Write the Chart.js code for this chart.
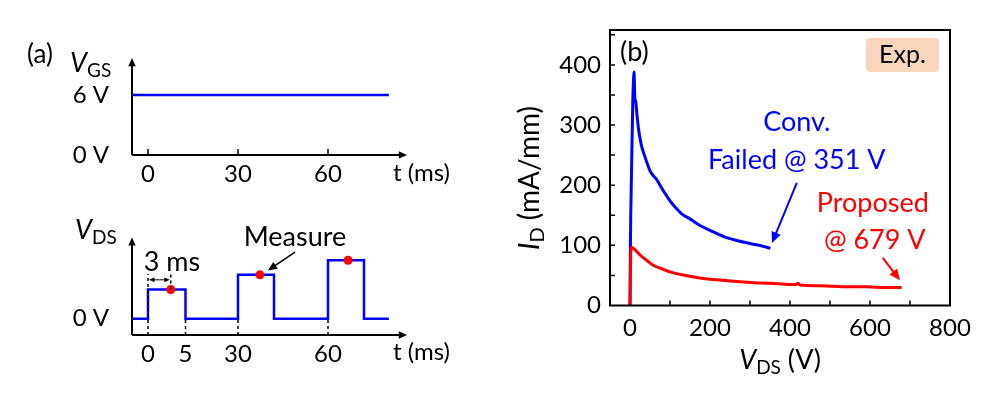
<!DOCTYPE html>
<html>
<head>
<meta charset="utf-8">
<script src="https://cdn.jsdelivr.net/npm/chart.js@4.4.1/dist/chart.umd.min.js"></script>
<style>
  html, body { margin: 0; padding: 0; background: #fff; }
  body { width: 1006px; height: 397px; position: relative; overflow: hidden; }
  .panel { position: absolute; }
</style>
</head>
<body>
<div class="panel" style="left:0;top:0;width:480px;height:200px"><canvas id="vgs"></canvas></div>
<div class="panel" style="left:0;top:200px;width:480px;height:197px"><canvas id="vds"></canvas></div>
<div class="panel" style="left:500px;top:0;width:506px;height:397px"><canvas id="ids"></canvas></div>
<script>
// (a) pulse schematic, t in ms
const tGate = [-5.33, 80.3];
const vGate = [6, 6];
const tDrain = [-5.33, 0, 0, 12.5, 12.5, 30, 30, 42, 42, 60, 60, 72, 72, 80.3];
const vDrain = [0, 0, 1, 1, 0, 0, 1.5, 1.5, 0, 0, 2, 2, 0, 0];
const tMeasure = [7.6, 37.3, 66.7];
const vMeasure = [1, 1.5, 2];
const timeTicks = [0, 30, 60];
const pulseTicks = [0, 12.5, 30, 60];
const pulseTickLabels = ["0", "5", "30", "60"];

// (b) ID - VDS, experiment
const vdsConv = [0, 1, 4, 7, 9, 10, 11, 12, 14, 17, 21, 25, 29, 35, 42, 50, 58, 65, 75, 87, 100, 115, 130, 150, 175, 200, 233, 267, 300, 330, 351];
const idConv = [0, 100, 230, 340, 378, 388, 372, 345, 340, 320, 295, 278, 265, 252, 238, 224, 216, 211, 200, 187, 174, 162, 152, 144, 133, 125, 115, 108, 103, 99, 95];
const vdsProp = [0, 0.5, 2, 4, 10, 18, 25, 40, 58, 80, 100, 140, 183, 230, 267, 310, 350, 400, 415, 420, 425, 470, 508, 550, 592, 640, 679];
const idProp = [0, 20, 90, 97, 94, 89, 84, 76, 67, 61, 56, 50, 45, 42, 40, 38, 37, 35, 35, 37, 34, 33, 32, 31, 31, 30, 30];
const vdsTicks = [0, 200, 400, 600, 800];
const idTicks = [0, 100, 200, 300, 400];
const vdsMarks = [100, 200, 300, 400, 500, 600, 700];
const idMarks = [50, 100, 150, 200, 250, 300, 350, 400, 450];

const FONT = "Lato, 'Open Sans', sans-serif";
const BLUE = "#0000ff";
const RED = "#ff0000";

const pts = (xs, ys) => xs.map((x, i) => ({ x: x, y: ys[i] }));
const setTicks = (vals) => (s) => { s.ticks = vals.map((v) => ({ value: v })); };

function arrow(ctx, x1, y1, x2, y2, color, width, head) {
  const a = Math.atan2(y2 - y1, x2 - x1);
  ctx.strokeStyle = color;
  ctx.fillStyle = color;
  ctx.lineWidth = width;
  ctx.beginPath();
  ctx.moveTo(x1, y1);
  ctx.lineTo(x2 - Math.cos(a) * head * 0.8, y2 - Math.sin(a) * head * 0.8);
  ctx.stroke();
  ctx.beginPath();
  ctx.moveTo(x2, y2);
  ctx.lineTo(x2 - head * Math.cos(a - 0.42), y2 - head * Math.sin(a - 0.42));
  ctx.lineTo(x2 - head * Math.cos(a + 0.42), y2 - head * Math.sin(a + 0.42));
  ctx.closePath();
  ctx.fill();
}

// text with italic symbol + subscript, e.g. V_DS
function richText(ctx, parts, x, y, size, align, color) {
  const fonts = parts.map((p) =>
    (p.italic ? "italic " : "") + Math.round(p.sub ? size * 0.7 : size) + "px " + FONT);
  let w = 0;
  parts.forEach((p, i) => { ctx.font = fonts[i]; w += ctx.measureText(p.t).width; });
  let cx = align === "center" ? x - w / 2 : align === "right" ? x - w : x;
  ctx.fillStyle = color || "#000";
  ctx.textAlign = "left";
  ctx.textBaseline = "middle";
  parts.forEach((p, i) => {
    ctx.font = fonts[i];
    ctx.fillText(p.t, cx, p.sub ? y + size * 0.28 : y);
    cx += ctx.measureText(p.t).width;
  });
}

function text(ctx, t, x, y, size, align, color) {
  ctx.font = size + "px " + FONT;
  ctx.fillStyle = color || "#000";
  ctx.textAlign = align || "center";
  ctx.textBaseline = "middle";
  ctx.fillText(t, x, y);
}

function axesWithArrows(ctx, area) {
  ctx.save();
  ctx.strokeStyle = "#000";
  ctx.lineWidth = 2;
  ctx.beginPath();
  ctx.moveTo(area.left, area.bottom);
  ctx.lineTo(area.right - 6, area.bottom);
  ctx.moveTo(area.left, area.bottom);
  ctx.lineTo(area.left, area.top + 6);
  ctx.stroke();
  arrow(ctx, area.right - 8, area.bottom, area.right, area.bottom, "#000", 2, 9);
  arrow(ctx, area.left, area.top + 8, area.left, area.top, "#000", 2, 9);
  ctx.restore();
}

const base = {
  responsive: true,
  maintainAspectRatio: false,
  animation: false,
  events: [],
  plugins: { legend: { display: false }, tooltip: { enabled: false } },
  elements: { point: { radius: 0 }, line: { tension: 0 } },
};

const tickFont = { family: FONT, size: 24 };

// V_GS schematic
new Chart(document.getElementById("vgs"), {
  type: "line",
  data: {
    datasets: [{ data: pts(tGate, vGate), borderColor: BLUE, borderWidth: 2.5 }],
  },
  options: {
    ...base,
    layout: { padding: { left: 0, top: 58, right: 73, bottom: 0 } },
    scales: {
      x: {
        type: "linear", min: -5.33, max: 86.33,
        grid: { display: false, drawTicks: false }, border: { display: false },
        afterBuildTicks: setTicks(timeTicks),
        afterFit: (s) => { s.height = 45; },
        ticks: { font: tickFont, color: "#000", padding: 5, autoSkip: false, maxRotation: 0 },
      },
      y: {
        min: 0, max: 9.7,
        grid: { display: false, drawTicks: false }, border: { display: false },
        afterBuildTicks: setTicks([0, 6]),
        afterFit: (s) => { s.width = 132; },
        ticks: { font: tickFont, color: "#000", padding: 23, callback: (v) => v + " V" },
      },
    },
  },
  plugins: [{
    id: "gateDecor",
    afterDraw(chart) {
      const { ctx, chartArea, scales } = chart;
      axesWithArrows(ctx, chartArea);
      ctx.save();
      ctx.strokeStyle = "#000";
      ctx.lineWidth = 1.5;
      timeTicks.forEach((v) => {
        const x = scales.x.getPixelForValue(v);
        ctx.beginPath();
        ctx.moveTo(x, chartArea.bottom);
        ctx.lineTo(x, chartArea.bottom - 6);
        ctx.stroke();
      });
      text(ctx, "(a)", 27, 55, 26, "left");
      richText(ctx, [{ t: "V", italic: true }, { t: "GS", sub: true }], 70, 63, 27, "left");
      text(ctx, "t (ms)", 393, 173, 24, "left");
      ctx.restore();
    },
  }],
});

// V_DS schematic
new Chart(document.getElementById("vds"), {
  type: "line",
  data: {
    datasets: [
      { type: "scatter", data: pts(tMeasure, vMeasure), pointRadius: 4.5, pointBackgroundColor: RED, pointBorderWidth: 0, showLine: false },
      { data: pts(tDrain, vDrain), borderColor: BLUE, borderWidth: 2.5 },
    ],
  },
  options: {
    ...base,
    layout: { padding: { left: 0, top: 15, right: 73, bottom: 0 } },
    scales: {
      x: {
        type: "linear", min: -5.33, max: 86.33,
        grid: { display: false, drawTicks: false }, border: { display: false },
        afterBuildTicks: setTicks(pulseTicks),
        afterFit: (s) => { s.height = 62; },
        ticks: { font: tickFont, color: "#000", padding: 5, autoSkip: false, maxRotation: 0,
          callback: (v, i) => pulseTickLabels[i] },
      },
      y: {
        min: -0.556, max: 2.78,
        grid: { display: false, drawTicks: false }, border: { display: false },
        afterBuildTicks: setTicks([0]),
        afterFit: (s) => { s.width = 132; },
        ticks: { font: tickFont, color: "#000", padding: 23, callback: (v) => v + " V" },
      },
    },
  },
  plugins: [{
    id: "drainDecor",
    afterDraw(chart) {
      const { ctx, chartArea, scales } = chart;
      const X = (v) => scales.x.getPixelForValue(v);
      const Y = (v) => scales.y.getPixelForValue(v);
      axesWithArrows(ctx, chartArea);
      ctx.save();
      ctx.strokeStyle = "#000";
      ctx.lineWidth = 1.5;
      ctx.setLineDash([3, 3]);
      const dashes = [[0, 1.53], [12.5, 0], [30, 0], [60, 0]];
      dashes.forEach(([t, top]) => {
        ctx.beginPath();
        ctx.moveTo(X(t), chartArea.bottom);
        ctx.lineTo(X(t), Y(top));
        ctx.stroke();
      });
      ctx.beginPath();
      ctx.moveTo(X(tMeasure[0]), Y(1));
      ctx.lineTo(X(tMeasure[0]), Y(1.53));
      ctx.stroke();
      ctx.setLineDash([]);
      // 3 ms double arrow
      const ya = Y(1.33), xa = X(0), xb = X(tMeasure[0]);
      arrow(ctx, (xa + xb) / 2, ya, xa + 1, ya, "#000", 1, 6);
      arrow(ctx, (xa + xb) / 2, ya, xb - 1, ya, "#000", 1, 6);
      text(ctx, "3 ms", X(8), Y(1.92), 27);
      text(ctx, "Measure", X(49), Y(2.78), 27);
      arrow(ctx, X(49), Y(2.28), X(40), Y(1.65), "#000", 1.5, 10);
      richText(ctx, [{ t: "V", italic: true }, { t: "DS", sub: true }], 75, 30, 27, "left");
      text(ctx, "t (ms)", 393, 152, 24, "left");
      ctx.restore();
    },
  }],
});

// I_D - V_DS
new Chart(document.getElementById("ids"), {
  type: "line",
  data: {
    datasets: [
      { label: "Proposed", data: pts(vdsProp, idProp), borderColor: RED, borderWidth: 3, cubicInterpolationMode: "monotone" },
      { label: "Conv.", data: pts(vdsConv, idConv), borderColor: BLUE, borderWidth: 3, cubicInterpolationMode: "monotone" },
    ],
  },
  options: {
    ...base,
    layout: { padding: { left: 0, top: 30, right: 56, bottom: 0 } },
    scales: {
      x: {
        type: "linear", min: -50, max: 800,
        grid: { display: false, drawTicks: false }, border: { display: false },
        afterBuildTicks: setTicks(vdsTicks),
        afterFit: (s) => { s.height = 91.5; },
        ticks: { font: tickFont, color: "#000", padding: 8, autoSkip: false, maxRotation: 0 },
      },
      y: {
        min: 0, max: 458,
        grid: { display: false, drawTicks: false }, border: { display: false },
        afterBuildTicks: setTicks(idTicks),
        afterFit: (s) => { s.width = 110; },
        ticks: { font: tickFont, color: "#000", padding: 9 },
      },
    },
  },
  plugins: [{
    id: "idsDecor",
    afterDraw(chart) {
      const { ctx, chartArea: a, scales } = chart;
      const X = (v) => scales.x.getPixelForValue(v);
      const Y = (v) => scales.y.getPixelForValue(v);
      ctx.save();
      ctx.strokeStyle = "#000";
      ctx.lineWidth = 2;
      ctx.strokeRect(a.left, a.top, a.right - a.left, a.bottom - a.top);
      ctx.lineWidth = 1.5;
      ctx.beginPath();
      vdsMarks.forEach((v) => { ctx.moveTo(X(v), a.bottom); ctx.lineTo(X(v), a.bottom - 5); });
      idMarks.forEach((v) => { ctx.moveTo(a.left, Y(v)); ctx.lineTo(a.left + 5, Y(v)); });
      ctx.stroke();

      // axis titles
      richText(ctx, [{ t: "V", italic: true }, { t: "DS", sub: true }, { t: " (V)" }], 280, 360, 27, "center");
      ctx.save();
      ctx.translate(30, 178);
      ctx.rotate(-Math.PI / 2);
      richText(ctx, [{ t: "I", italic: true }, { t: "D", sub: true }, { t: " (mA/mm)" }], 0, 0, 28, "center");
      ctx.restore();

      text(ctx, "(b)", a.left + 10, 52, 27, "left");
      ctx.fillStyle = "#f8d5bc";
      ctx.beginPath();
      ctx.roundRect(366, 38, 73, 34, 4);
      ctx.fill();
      text(ctx, "Exp.", 402.5, 55, 25);

      text(ctx, "Conv.", X(417), Y(304), 27, "center", BLUE);
      text(ctx, "Failed @ 351 V", X(417), Y(242), 27, "center", BLUE);
      arrow(ctx, X(417), Y(204), X(355), Y(104), BLUE, 2, 12);
      text(ctx, "Proposed", X(607), Y(170), 27, "center", RED);
      text(ctx, "@ 679 V", X(612), Y(109), 27, "center", RED);
      arrow(ctx, X(632), Y(79), X(675), Y(42), RED, 2, 12);
      ctx.restore();
    },
  }],
});
</script>
</body>
</html>
